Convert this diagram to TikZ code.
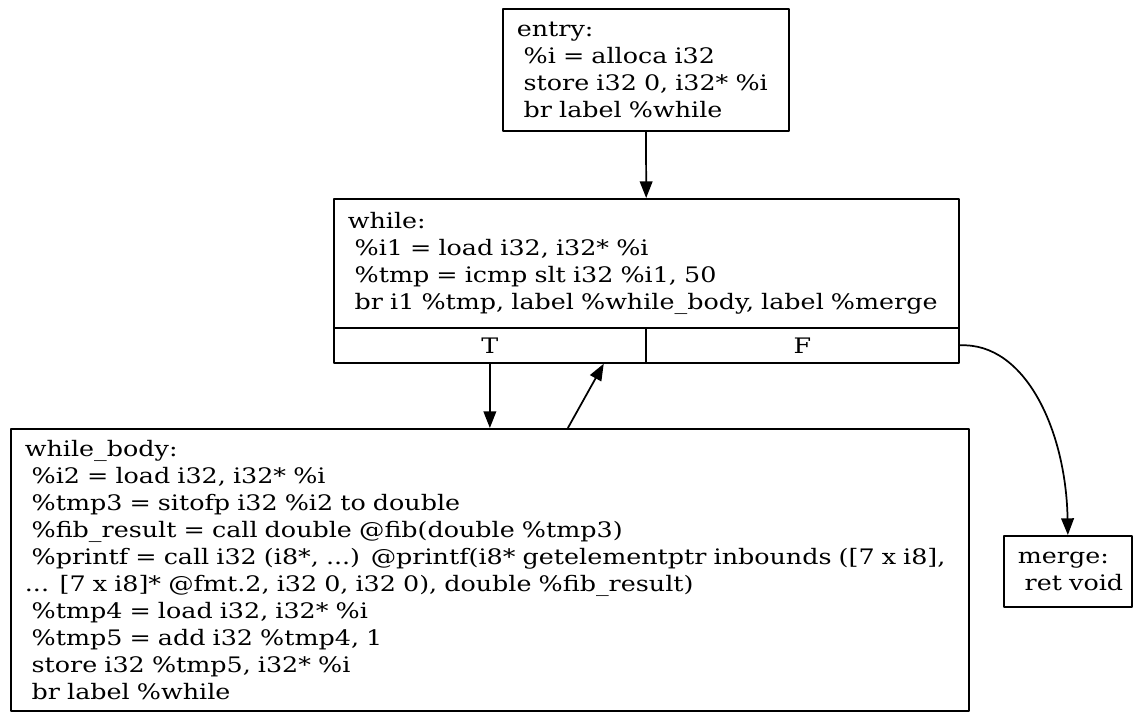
\documentclass[tikz,border=0pt]{standalone}
\usepackage{fontspec}
\setmainfont{DejaVu Serif}[FakeStretch=1.19]
\usetikzlibrary{arrows.meta,calc}
\newcommand{\ind}{\hspace*{0.32em}}

\begin{document}
\begin{tikzpicture}[x=0.75pt,y=-0.75pt,>={Triangle[length=12.5pt,width=9.5pt]},line join=round,
  block/.style={draw,line width=1.3pt,rectangle,anchor=north west,align=left,inner xsep=10.5pt,inner ysep=0pt,
    font=\fontsize{16pt}{20.25pt}\selectfont},
  cell/.style={draw,line width=1.3pt,rectangle,anchor=north west,inner sep=0pt,
    font=\fontsize{16pt}{20.25pt}\selectfont},
  edge/.style={->,line width=1.3pt}]
  \useasboundingbox (0,0) rectangle (1133,713);

  \node[block,text width=193.5pt,minimum height=91.5pt] (entry) at (502,8)
    {entry:\\ \ind\%i = alloca i32\\ \ind store i32 0, i32* \%i\\ \ind br label \%while};
  \node[block,text width=447.75pt,minimum height=96.75pt] (while) at (333,198)
    {while:\\ \ind\%i1 = load i32, i32* \%i\\ \ind\%tmp = icmp slt i32 \%i1, 50\\
     \ind br i1 \%tmp, label \%while\_body, label \%merge};
  \node[cell,minimum width=234pt,minimum height=26.25pt] (T) at (333,327) {T};
  \node[cell,minimum width=234.75pt,minimum height=26.25pt] (F) at (645,327) {F};
  \node[block,text width=697.5pt,minimum height=211.5pt] (body) at (10,428)
    {while\_body:\\ \ind\%i2 = load i32, i32* \%i\\ \ind\%tmp3 = sitofp i32 \%i2 to double\\
     \ind\%fib\_result = call double @fib(double \%tmp3)\\
     \ind\%printf = call i32 (i8*, ...) @printf(i8* getelementptr inbounds ([7 x i8],\\
     ... [7 x i8]* @fmt.2, i32 0, i32 0), double \%fib\_result)\\
     \ind\%tmp4 = load i32, i32* \%i\\ \ind\%tmp5 = add i32 \%tmp4, 1\\
     \ind store i32 \%tmp5, i32* \%i\\ \ind br label \%while};
  \node[block,text width=75pt,minimum height=53.25pt] (merge) at (1003,535)
    {merge:\\ \ind\mbox{ret void}};

  \draw[edge] (entry) -- (while);
  \draw[edge] (T.south) -- (T.south |- body.north);
  \draw[edge] ([xshift=58.5pt]body.north) -- ([xshift=-32.25pt]T.south east);
  \draw[edge] (F.east) .. controls (1025,342) and (1066,430) .. (merge.north);
\end{tikzpicture}
\end{document}
